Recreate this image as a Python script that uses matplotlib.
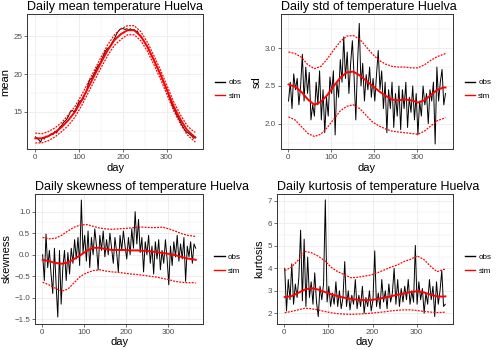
import numpy as np
import matplotlib
matplotlib.use("Agg")
import matplotlib.pyplot as plt
from matplotlib.lines import Line2D

plt.rcParams["font.family"] = ["Liberation Sans", "DejaVu Sans"]

# observed statistics, every 4th day (1, 5, ..., 365)
obs_mean = [11.7, 11.5, 11.3, 11.0, 11.6, 11.4, 11.8, 11.7, 11.9, 12.1,
            12.0, 12.4, 12.2, 12.6, 13.0, 13.2, 13.6, 13.8, 14.1, 14.5,
            15.1, 15.2, 15.0, 15.4, 15.9, 16.4, 16.5, 16.6, 17.3, 17.6,
            18.6, 19.3, 19.4, 19.9, 20.3, 20.9, 21.2, 21.5, 22.1, 22.6,
            23.1, 23.4, 23.5, 23.9, 24.3, 24.7, 25.2, 25.6, 25.9, 26.0,
            26.0, 25.9, 26.0, 25.8, 26.0, 25.8, 25.9, 25.6, 25.7, 25.2,
            24.9, 24.6, 24.3, 23.9, 23.5, 23.0, 22.5, 22.1, 21.6, 21.0,
            20.6, 20.1, 19.4, 18.9, 18.3, 17.8, 17.0, 16.4, 15.8, 15.3,
            14.8, 14.3, 13.9, 13.4, 13.0, 12.6, 12.3, 12.2, 12.0, 11.8,
            11.5, 11.7]
obs_sd = [2.30, 2.55, 2.20, 2.66, 2.45, 2.60, 2.25, 2.50, 2.92, 2.30,
          2.75, 2.40, 2.68, 2.05, 2.25, 2.10, 2.55, 2.25, 2.70, 2.05,
          2.45, 1.88, 2.35, 2.10, 2.62, 2.40, 2.70, 1.85, 2.55, 2.35,
          2.85, 2.55, 3.15, 2.60, 2.95, 2.40, 2.80, 3.10, 2.62, 2.05,
          2.80, 3.33, 2.50, 2.80, 2.30, 2.65, 2.45, 2.75, 2.35, 2.60,
          2.30, 2.65, 2.97, 2.45, 2.70, 2.20, 2.55, 1.88, 2.45, 2.20,
          2.55, 1.95, 2.40, 2.10, 2.50, 1.92, 2.45, 2.20, 2.55, 1.95,
          2.35, 2.15, 2.50, 2.05, 2.40, 1.85, 2.30, 2.10, 2.50, 2.25,
          2.40, 2.00, 2.45, 2.30, 2.55, 1.73, 2.75, 2.30, 2.55, 2.72,
          2.25, 2.40]
obs_skew = [0.00, -0.60, 0.48, -0.30, 0.10, -0.45, -0.90, 0.15, -0.70, -1.45,
            0.10, -1.15, -0.30, 0.10, -0.60, 0.05, -0.45, 0.15, -0.20, 0.35,
            -0.10, 0.40, -0.25, 1.27, 0.05, 0.45, -0.15, 0.55, -0.30, 0.40,
            0.00, 0.60, 0.20, -0.35, 0.45, 0.10, 0.55, -0.05, 0.35, 0.00,
            0.50, 0.15, -0.20, 0.40, 0.05, -0.40, 0.45, 0.10, 0.55, 0.20,
            -0.10, 0.40, 0.00, 0.60, 0.15, 1.00, 0.25, 0.82, 0.05, 0.40,
            -0.40, 0.30, 0.00, 0.45, -0.20, 0.20, -0.45, 0.30, -0.10, 0.35,
            -0.35, 0.10, -0.20, 0.35, -0.10, -0.70, 0.20, -0.25, 0.30, -0.05,
            0.45, -0.15, 0.25, -0.10, 0.40, -0.62, 0.20, -0.05, 0.30, -0.20,
            0.25, 0.15]
obs_kurt = [4.00, 2.10, 3.50, 2.60, 4.20, 2.40, 3.30, 2.70, 3.60, 5.70,
            2.55, 5.30, 2.30, 4.50, 2.70, 3.40, 2.40, 3.80, 2.50, 1.85,
            3.20, 2.60, 3.30, 7.05, 2.50, 3.20, 2.30, 2.90, 2.40, 3.40,
            2.30, 3.00, 2.20, 2.70, 4.30, 2.30, 3.00, 2.15, 2.80, 2.40,
            3.50, 2.20, 2.80, 2.30, 3.20, 2.00, 2.70, 2.30, 3.00, 2.10,
            2.60, 4.78, 2.30, 2.90, 2.20, 3.50, 2.50, 3.00, 2.20, 3.30,
            2.50, 2.90, 4.00, 2.40, 3.50, 2.30, 3.10, 2.50, 3.20, 2.60,
            3.50, 2.40, 3.00, 2.50, 5.02, 2.40, 3.40, 2.60, 3.10, 2.00,
            2.90, 2.40, 3.50, 2.60, 3.20, 1.85, 3.40, 2.40, 3.00, 3.90,
            2.30, 2.40]

# simulated statistics (median and band), days 1, 16, ..., 361, 365
sim_mean = [11.5, 11.5, 11.8, 12.3, 13.0, 13.9, 15.0, 16.5, 18.2, 19.9, 21.6, 23.2, 24.5,
            25.3, 25.8, 25.8, 25.0, 23.6, 21.8, 19.9, 17.8, 15.7, 14.0, 12.6, 11.8, 11.6]
sim_mean_hi = [12.2, 12.1, 12.4, 12.9, 13.6, 14.6, 15.7, 17.2, 18.9, 20.6, 22.3, 23.9, 25.2,
               26.0, 26.4, 26.4, 25.6, 24.2, 22.4, 20.5, 18.4, 16.3, 14.6, 13.2, 12.4, 12.3]
sim_mean_lo = [10.9, 10.9, 11.2, 11.7, 12.4, 13.2, 14.3, 15.8, 17.5, 19.2, 20.9, 22.5, 23.8,
               24.6, 25.2, 25.2, 24.4, 23.0, 21.2, 19.3, 17.2, 15.1, 13.4, 12.0, 11.2, 11.0]
sim_sd = [2.52, 2.49, 2.42, 2.32, 2.25, 2.29, 2.38, 2.50, 2.61, 2.68, 2.69, 2.64, 2.57,
          2.50, 2.43, 2.37, 2.32, 2.31, 2.32, 2.31, 2.28, 2.31, 2.38, 2.45, 2.48, 2.48]
sim_sd_hi = [2.95, 2.93, 2.88, 2.78, 2.73, 2.76, 2.86, 2.98, 3.09, 3.16, 3.17, 3.12, 3.02,
             2.92, 2.84, 2.79, 2.76, 2.75, 2.75, 2.74, 2.74, 2.78, 2.84, 2.89, 2.92, 2.93]
sim_sd_lo = [2.09, 2.05, 1.96, 1.87, 1.83, 1.86, 1.95, 2.06, 2.17, 2.23, 2.25, 2.20, 2.11,
             2.02, 1.97, 1.93, 1.90, 1.89, 1.88, 1.87, 1.86, 1.90, 1.97, 2.04, 2.07, 2.08]
sim_skew = [-0.12, -0.15, -0.19, -0.21, -0.18, -0.10, -0.01, 0.09, 0.16, 0.16, 0.13, 0.11, 0.11,
            0.11, 0.10, 0.10, 0.09, 0.08, 0.06, 0.04, 0.02, -0.01, -0.05, -0.09, -0.11, -0.12]
sim_skew_hi = [0.40, 0.37, 0.38, 0.45, 0.55, 0.64, 0.69, 0.70, 0.66, 0.62, 0.60, 0.59, 0.60,
               0.61, 0.62, 0.64, 0.64, 0.63, 0.63, 0.64, 0.60, 0.55, 0.49, 0.45, 0.43, 0.42]
sim_skew_lo = [-0.64, -0.70, -0.78, -0.85, -0.80, -0.65, -0.50, -0.42, -0.37, -0.35, -0.38, -0.40, -0.41,
               -0.43, -0.45, -0.46, -0.48, -0.50, -0.52, -0.55, -0.58, -0.62, -0.64, -0.65, -0.65, -0.66]
sim_kurt = [2.72, 2.76, 2.90, 3.05, 3.12, 3.06, 2.95, 2.85, 2.76, 2.69, 2.64, 2.60, 2.58,
            2.59, 2.63, 2.69, 2.75, 2.82, 2.88, 2.94, 2.98, 2.93, 2.83, 2.75, 2.74, 2.75]
sim_kurt_hi = [3.90, 4.05, 4.35, 4.75, 4.70, 4.55, 4.35, 4.05, 3.85, 3.72, 3.58, 3.60, 3.65,
               3.70, 3.80, 3.92, 4.05, 4.15, 4.30, 4.40, 4.55, 4.40, 4.10, 3.85, 3.95, 3.95]
sim_kurt_lo = [2.02, 2.08, 2.15, 2.22, 2.20, 2.15, 2.08, 2.02, 1.98, 1.96, 1.95, 1.96, 1.98,
               2.00, 2.03, 2.06, 2.10, 2.13, 2.15, 2.15, 2.12, 2.08, 2.05, 2.03, 2.04, 2.05]

obs_day = 1 + 4 * np.arange(len(obs_mean))
sim_day = list(range(1, 362, 15)) + [365]

GRID = "#EBEBEB"


def draw_panel(fig, rect, obs, sim, lo, hi, title, ylabel, ylim, yticks, leg_y):
    ax = fig.add_axes(rect)
    ax.plot(obs_day, obs, color="black", lw=0.7, zorder=3)
    ax.plot(sim_day, sim, color="red", lw=1.4, zorder=4)
    ax.plot(sim_day, hi, color="red", lw=0.9, ls=(0, (1.5, 1)), zorder=4)
    ax.plot(sim_day, lo, color="red", lw=0.9, ls=(0, (1.5, 1)), zorder=4)

    ax.set_xlim(-17.2, 383.2)
    ax.set_ylim(*ylim)
    ax.set_xticks([0, 100, 200, 300])
    ax.set_xticks([50, 150, 250, 350], minor=True)
    ax.set_yticks(yticks)
    step = yticks[1] - yticks[0]
    minor = np.arange(yticks[0] - step / 2, ylim[1], step)
    ax.set_yticks([m for m in minor if ylim[0] < m < ylim[1]], minor=True)
    ax.grid(which="major", color=GRID, lw=0.6)
    ax.grid(which="minor", color=GRID, lw=0.3)
    ax.set_axisbelow(True)
    for s in ax.spines.values():
        s.set_color("#333333")
        s.set_linewidth(0.7)
    ax.tick_params(which="major", length=2, width=0.5, color="#333333",
                   labelcolor="#4D4D4D", labelsize=5.8, pad=1.5)
    ax.tick_params(which="minor", length=0)

    ax.set_title(title, loc="left", fontsize=9, pad=3)
    ax.set_xlabel("day", fontsize=8, labelpad=1)
    ax.set_ylabel(ylabel, fontsize=8, labelpad=2)

    handles = [Line2D([], [], color="black", lw=1.0),
               Line2D([], [], color="red", lw=1.0)]
    ax.legend(handles, ["obs", "sim"], loc="center left",
              bbox_to_anchor=(1.065, leg_y), frameon=False, fontsize=5.8,
              handlelength=1.3, handletextpad=0.4, labelspacing=0.75,
              borderpad=0, borderaxespad=0)
    return ax


fig = plt.figure(figsize=(5, 3.5), dpi=100)

draw_panel(fig, [0.0547, 0.5734, 0.352, 0.3857], obs_mean, sim_mean, sim_mean_lo, sim_mean_hi,
           "Daily mean temperature Huelva", "mean", (10.05, 27.9), [15, 20, 25], 0.444)
draw_panel(fig, [0.5614, 0.5734, 0.3453, 0.3857], obs_sd, sim_sd, sim_sd_lo, sim_sd_hi,
           "Daily std of temperature Huelva", "sd", (1.66, 3.45), [2.0, 2.5, 3.0], 0.444)
draw_panel(fig, [0.07, 0.0743, 0.3367, 0.3714], obs_skew, sim_skew, sim_skew_lo, sim_skew_hi,
           "Daily skewness of temperature Huelva", "skewness", (-1.61, 1.41),
           [-1.5, -1.0, -0.5, 0.0, 0.5, 1.0], 0.459)
draw_panel(fig, [0.5534, 0.0743, 0.3533, 0.3714], obs_kurt, sim_kurt, sim_kurt_lo, sim_kurt_hi,
           "Daily kurtosis of temperature Huelva", "kurtosis", (1.52, 7.31),
           [2, 3, 4, 5, 6, 7], 0.459)

fig.savefig("out.png", dpi=100)
